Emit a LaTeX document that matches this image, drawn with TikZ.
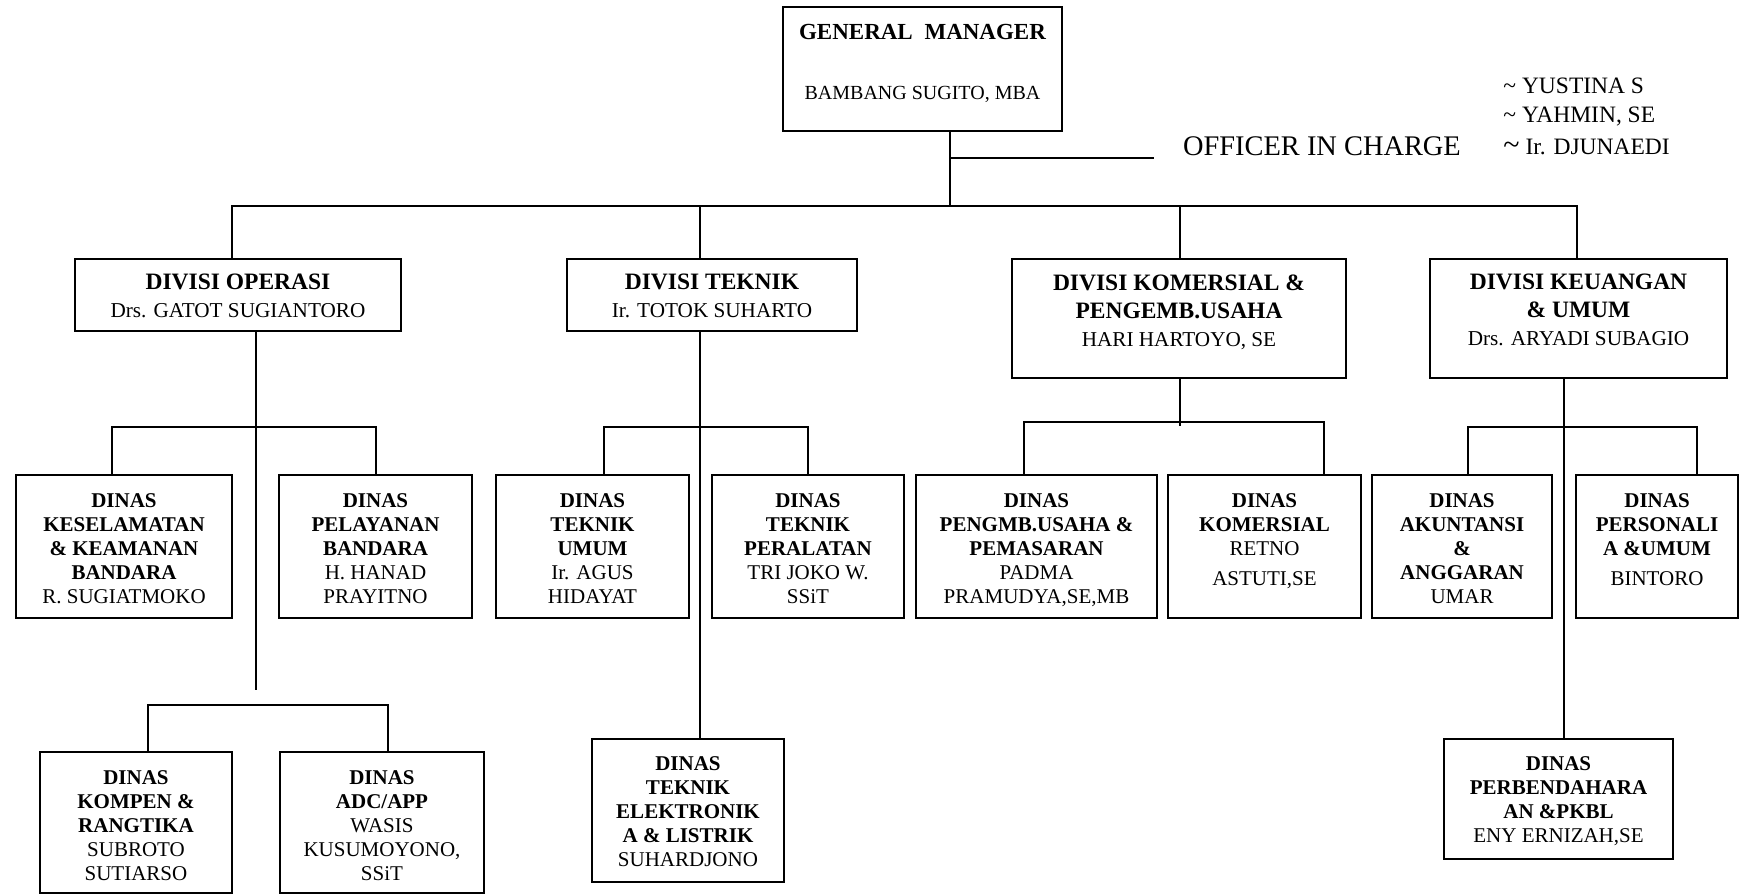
\documentclass[tikz,border=0pt]{standalone}
\usepackage{fontspec}
\setmainfont{Liberation Serif}
\usetikzlibrary{calc}

\newcommand\hd[1]{\textbf{#1}}
\newcommand\divhd[1]{{\bfseries\fontsize{11.75}{14}\selectfont #1}}

\begin{document}
\begin{tikzpicture}[x=0.5pt,y=-0.5pt,
  conn/.style={line width=1pt},
  unitbox/.style={draw, line width=1pt, inner sep=0pt, outer sep=0pt},
  dintext/.style={inner sep=0pt, align=center, font=\fontsize{10.5}{12}\selectfont},
  divtext/.style={inner sep=0pt, align=center, font=\fontsize{10.6}{14}\selectfont},
  gmtext/.style={inner sep=0pt, align=center, font=\fontsize{10}{30}\selectfont},
  oictext/.style={inner sep=0pt, font=\fontsize{14.2}{17}\selectfont},
  listtext/.style={inner sep=0pt, font=\fontsize{11.75}{14}\selectfont}]
\useasboundingbox (0,0) rectangle (1740,895);

% ---------- general manager ----------
\node[unitbox, minimum width=139.5pt, minimum height=62pt] (gm) at (922.5,69) {};
\node[gmtext, anchor=north] (gm-t) at ($(gm.north)+(0,17)$)
  {{\bfseries\fontsize{11.5}{30}\selectfont GENERAL\hspace{3pt} MANAGER}\\BAMBANG SUGITO, MBA};

% officer in charge branch
\coordinate (oicjoin) at (950,158);
\coordinate (oicend) at (1154,158);
\node[oictext, anchor=base] (oic) at (1322,155) {OFFICER IN CHARGE};
\node[listtext, anchor=base west] (oic1) at (1503,93) {\textasciitilde\ YUSTINA S};
\node[listtext, anchor=base west] (oic2) at (1503,122) {\textasciitilde\ YAHMIN, SE};
\node[listtext, anchor=base west] (oic3) at (1503,154) {{\fontsize{15}{15}\selectfont\textasciitilde}\ Ir. DJUNAEDI};

% ---------- divisions ----------
\node[unitbox, minimum width=163pt, minimum height=36pt] (dop) at (238,295) {};
\node[divtext, anchor=north] (dop-t) at ($(dop.north)+(0,15)$)
  {\divhd{DIVISI OPERASI}\\Drs. GATOT SUGIANTORO};

\node[unitbox, minimum width=145pt, minimum height=36pt] (dtk) at (712,295) {};
\node[divtext, anchor=north] (dtk-t) at ($(dtk.north)+(0,15)$)
  {\divhd{DIVISI TEKNIK}\\Ir. TOTOK SUHARTO};

\node[unitbox, minimum width=167pt, minimum height=59.5pt] (dkm) at (1179,318.5) {};
\node[divtext, anchor=north] (dkm-t) at ($(dkm.north)+(0,15)$)
  {\divhd{DIVISI KOMERSIAL \&}\\\divhd{PENGEMB.USAHA}\\HARI HARTOYO, SE};

\node[unitbox, minimum width=148.5pt, minimum height=59.5pt] (dku) at (1578.5,318.5) {};
\node[divtext, anchor=north] (dku-t) at ($(dku.north)+(0,15)$)
  {\divhd{DIVISI KEUANGAN}\\\divhd{\& UMUM}\\Drs. ARYADI SUBAGIO};

% ---------- dinas, second row ----------
\node[unitbox, minimum width=108pt, minimum height=71.5pt] (kes) at (124,546.5) {};
\node[dintext, anchor=north] (kes-t) at ($(kes.north)+(0,18)$)
  {\hd{DINAS}\\\hd{KESELAMATAN}\\\hd{\& KEAMANAN}\\\hd{BANDARA}\\R. SUGIATMOKO};

\node[unitbox, minimum width=96.5pt, minimum height=71.5pt] (pel) at (375.5,546.5) {};
\node[dintext, anchor=north] (pel-t) at ($(pel.north)+(0,18)$)
  {\hd{DINAS}\\\hd{PELAYANAN}\\\hd{BANDARA}\\H. HANAD\\PRAYITNO};

\node[unitbox, minimum width=96.5pt, minimum height=71.5pt] (tku) at (592.5,546.5) {};
\node[dintext, anchor=north] (tku-t) at ($(tku.north)+(0,18)$)
  {\hd{DINAS}\\\hd{TEKNIK}\\\hd{UMUM}\\Ir. AGUS\\HIDAYAT};

\node[unitbox, minimum width=96pt, minimum height=71.5pt] (tpe) at (808,546.5) {};
\node[dintext, anchor=north] (tpe-t) at ($(tpe.north)+(0,18)$)
  {\hd{DINAS}\\\hd{TEKNIK}\\\hd{PERALATAN}\\TRI JOKO W.\\SSiT};

\node[unitbox, minimum width=120.5pt, minimum height=71.5pt] (pus) at (1036.5,546.5) {};
\node[dintext, anchor=north] (pus-t) at ($(pus.north)+(0,18)$)
  {\hd{DINAS}\\\hd{PENGMB.USAHA \&}\\\hd{PEMASARAN}\\PADMA\\PRAMUDYA,SE,MB};

\node[unitbox, minimum width=96.5pt, minimum height=71.5pt] (dkom) at (1264.5,546.5) {};
\node[dintext, anchor=north] (dkom-t) at ($(dkom.north)+(0,18)$)
  {\hd{DINAS}\\\hd{KOMERSIAL}\\RETNO\\[3pt]ASTUTI,SE};

\node[unitbox, minimum width=90pt, minimum height=71.5pt] (akt) at (1462,546.5) {};
\node[dintext, anchor=north] (akt-t) at ($(akt.north)+(0,18)$)
  {\hd{DINAS}\\\hd{AKUNTANSI}\\\hd{\&}\\\hd{ANGGARAN}\\UMAR};

\node[unitbox, minimum width=81pt, minimum height=71.5pt] (per) at (1657,546.5) {};
\node[dintext, anchor=north] (per-t) at ($(per.north)+(0,18)$)
  {\hd{DINAS}\\\hd{PERSONALI}\\\hd{A \&UMUM}\\[3pt]BINTORO};

% ---------- dinas, third row ----------
\node[unitbox, minimum width=96pt, minimum height=70.5pt] (kmp) at (136,822.5) {};
\node[dintext, anchor=north] (kmp-t) at ($(kmp.north)+(0,18)$)
  {\hd{DINAS}\\\hd{KOMPEN \&}\\\hd{RANGTIKA}\\SUBROTO\\SUTIARSO};

\node[unitbox, minimum width=102pt, minimum height=70.5pt] (adc) at (382,822.5) {};
\node[dintext, anchor=north] (adc-t) at ($(adc.north)+(0,18)$)
  {\hd{DINAS}\\\hd{ADC/APP}\\WASIS\\KUSUMOYONO,\\SSiT};

\node[unitbox, minimum width=96pt, minimum height=71.5pt] (elk) at (688,810.5) {};
\node[dintext, anchor=north] (elk-t) at ($(elk.north)+(0,17)$)
  {\hd{DINAS}\\\hd{TEKNIK}\\\hd{ELEKTRONIK}\\\hd{A \& LISTRIK}\\SUHARDJONO};

\node[unitbox, minimum width=114.5pt, minimum height=60pt] (pbd) at (1558.5,799) {};
\node[dintext, anchor=north] (pbd-t) at ($(pbd.north)+(0,17)$)
  {\hd{DINAS}\\\hd{PERBENDAHARA}\\\hd{AN \&PKBL}\\ENY ERNIZAH,SE};

% ---------- connectors ----------
% general manager down to the main bus, with the officer branch
\coordinate (b1) at (232,206);
\coordinate (b2) at (700,206);
\coordinate (b3) at (1180,206);
\coordinate (b4) at (1577,206);
\draw[conn] (gm.south -| oicjoin) -- (oicjoin |- b1);
\draw[conn] (oicjoin) -- (oicend);

% main bus to the four divisions
\draw[conn] (dop.north -| b1) |- (b4) -- (dku.north -| b4);
\draw[conn] (b2) -- (dtk.north -| b2);
\draw[conn] (b3) -- (dkm.north -| b3);

% divisi operasi
\coordinate (opv) at (256,690);
\coordinate (op1) at (112,427);
\coordinate (op2) at (376,427);
\coordinate (op3) at (148,705);
\coordinate (op4) at (388,705);
\draw[conn] (dop.south -| opv) -- (opv);
\draw[conn] (kes.north -| op1) |- (op2) -- (pel.north -| op2);
\draw[conn] (kmp.north -| op3) |- (op4) -- (adc.north -| op4);

% divisi teknik
\coordinate (tk1) at (604,427);
\coordinate (tk2) at (808,427);
\draw[conn] (dtk.south -| b2) -- (elk.north -| b2);
\draw[conn] (tku.north -| tk1) |- (tk2) -- (tpe.north -| tk2);

% divisi komersial
\coordinate (kmv) at (1180,426);
\coordinate (km1) at (1024,422);
\coordinate (km2) at (1324,422);
\draw[conn] (dkm.south -| b3) -- (kmv);
\draw[conn] (pus.north -| km1) |- (km2) -- (dkom.north -| km2);

% divisi keuangan
\coordinate (kuv) at (1564,378);
\coordinate (ku1) at (1468,427);
\coordinate (ku2) at (1697,427);
\draw[conn] (dku.south -| kuv) -- (pbd.north -| kuv);
\draw[conn] (akt.north -| ku1) |- (ku2) -- (per.north -| ku2);
\end{tikzpicture}
\end{document}
